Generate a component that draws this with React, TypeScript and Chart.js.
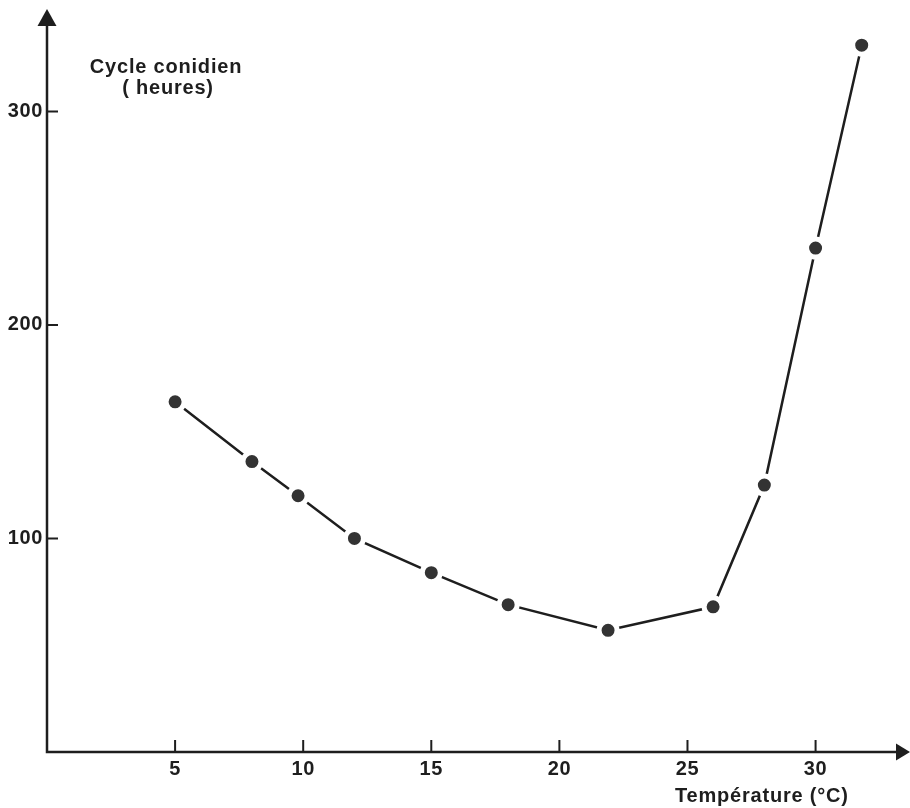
import React, { useEffect, useRef } from "react";
import { Chart, registerables } from "chart.js";

Chart.register(...registerables);

// Data
const temperatures = [5, 8, 9.8, 12, 15, 18, 21.9, 26, 28, 30, 31.8];
const cycleHours = [164, 136, 120, 100, 84, 69, 57, 68, 125, 236, 331];
const xTickValues = [5, 10, 15, 20, 25, 30];
const yTickValues = [100, 200, 300];
const yTitleLines = ["Cycle conidien", "( heures)"];
const xTitle = "Température (°C)";

const INK = "#1e1e1e";
const FONT = "'Liberation Sans', Arial, Helvetica, sans-serif";

const axesPlugin = {
  id: "handAxes",
  beforeUpdate(chart: any) {
    try {
      chart.ctx.letterSpacing = "0.6px";
    } catch (e) {}
  },
  beforeDatasetsDraw(chart: any) {
    const ctx = chart.ctx;
    const xs = chart.scales.x;
    const ys = chart.scales.y;
    const x0 = xs.getPixelForValue(0);
    const y0 = ys.getPixelForValue(0);
    ctx.save();
    ctx.strokeStyle = INK;
    ctx.fillStyle = INK;
    ctx.lineWidth = 2.5;
    ctx.lineCap = "butt";
    // axes
    ctx.beginPath();
    ctx.moveTo(x0, y0 + 1.2);
    ctx.lineTo(x0, 22);
    ctx.moveTo(x0 - 1.2, y0);
    ctx.lineTo(chart.width - 12, y0);
    ctx.stroke();
    // arrowheads
    ctx.beginPath();
    ctx.moveTo(x0, 9);
    ctx.lineTo(x0 - 9.5, 26);
    ctx.lineTo(x0 + 9.5, 26);
    ctx.closePath();
    ctx.fill();
    ctx.beginPath();
    ctx.moveTo(chart.width, y0);
    ctx.lineTo(chart.width - 14, y0 - 8.5);
    ctx.lineTo(chart.width - 14, y0 + 8.5);
    ctx.closePath();
    ctx.fill();
    // tick marks (inside)
    ctx.lineWidth = 2;
    ctx.beginPath();
    xTickValues.forEach((v) => {
      const px = xs.getPixelForValue(v);
      ctx.moveTo(px, y0);
      ctx.lineTo(px, y0 - 12);
    });
    yTickValues.forEach((v) => {
      const py = ys.getPixelForValue(v);
      ctx.moveTo(x0, py);
      ctx.lineTo(x0 + 11, py);
    });
    ctx.stroke();
    ctx.restore();
  },
  afterDraw(chart: any) {
    const ctx = chart.ctx;
    ctx.save();
    ctx.fillStyle = INK;
    try {
      ctx.letterSpacing = "0.8px";
    } catch (e) {}
    ctx.font = `bold 20px ${FONT}`;
    ctx.textBaseline = "alphabetic";
    ctx.textAlign = "center";
    ctx.fillText(yTitleLines[0], 166, 73);
    ctx.fillText(yTitleLines[1], 168, 94);
    ctx.textAlign = "left";
    ctx.fillText(xTitle, 675, 802);
    ctx.restore();
  },
};

export default function App() {
  const ref = useRef<HTMLCanvasElement | null>(null);
  useEffect(() => {
    if (!ref.current) return;
    const data = temperatures.map((t, i) => ({ x: t, y: cycleHours[i] }));
    const chart = new Chart(ref.current, {
      type: "scatter",
      data: {
        datasets: [
          {
            data,
            showLine: true,
            borderColor: INK,
            borderWidth: 2.5,
            pointRadius: 9,
            pointHoverRadius: 9,
            pointBackgroundColor: "#333333",
            pointBorderColor: "#ffffff",
            pointBorderWidth: 5,
            clip: false,
          } as any,
        ],
      },
      options: {
        animation: false,
        responsive: false,
        events: [],
        layout: { padding: { left: 0, right: 15, top: 26, bottom: 0 } },
        plugins: {
          legend: { display: false },
          tooltip: { enabled: false },
          title: { display: false },
        },
        scales: {
          x: {
            type: "linear",
            min: 0,
            max: 33.1,
            grid: { display: false, drawTicks: false },
            border: { display: false },
            afterBuildTicks: (s: any) => {
              s.ticks = xTickValues.map((v) => ({ value: v }));
            },
            afterFit: (s: any) => {
              s.height = 56;
            },
            ticks: {
              padding: 5,
              color: INK,
              font: { family: FONT, size: 20, weight: "bold" },
              maxRotation: 0,
              autoSkip: false,
            },
          },
          y: {
            type: "linear",
            min: 0,
            max: 340,
            grid: { display: false, drawTicks: false },
            border: { display: false },
            afterBuildTicks: (s: any) => {
              s.ticks = yTickValues.map((v) => ({ value: v }));
            },
            afterFit: (s: any) => {
              s.width = 47;
            },
            ticks: {
              padding: 4,
              color: INK,
              font: { family: FONT, size: 20, weight: "bold" },
              autoSkip: false,
            },
          },
        },
      },
      plugins: [axesPlugin],
    });
    return () => chart.destroy();
  }, []);
  return (
    <div style={{ position: "fixed", left: 0, top: 0, width: 910, height: 808, background: "#fff" }}>
      <canvas ref={ref} width={910} height={808} style={{ display: "block" }} />
    </div>
  );
}
